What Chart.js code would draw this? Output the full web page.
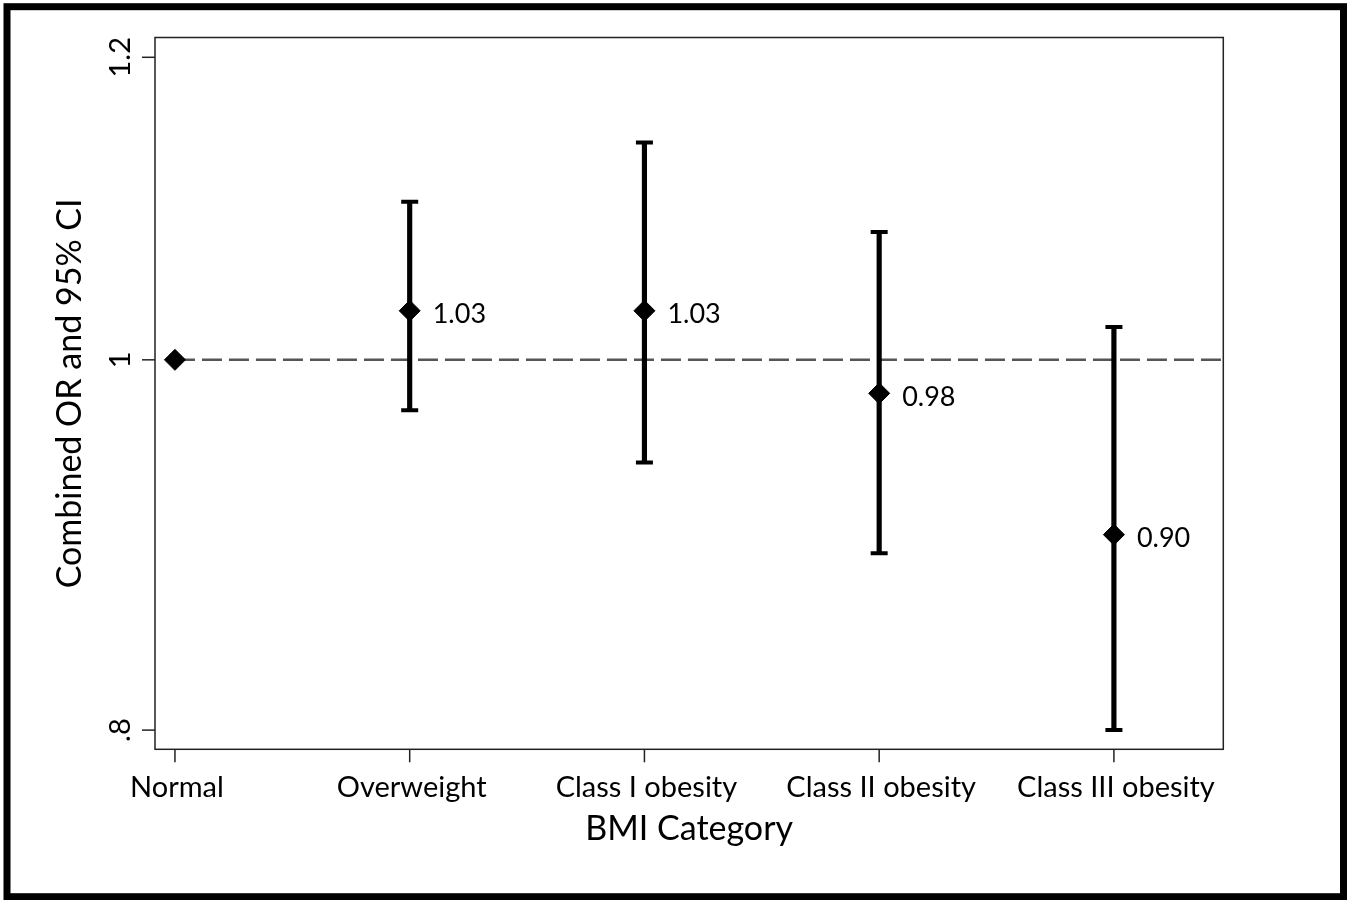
<!DOCTYPE html>
<html>
<head>
<meta charset="utf-8">
<script src="https://cdn.jsdelivr.net/npm/chart.js@4.4.1/dist/chart.umd.min.js"></script>
<style>
  html, body { margin: 0; padding: 0; background: #fff; }
  #wrap { width: 1350px; height: 900px; position: relative; }
</style>
</head>
<body>
<div id="wrap"><canvas id="chart" width="1350" height="900"></canvas></div>
<script>
// BMI categories and combined odds ratios
const categories = ['Normal', 'Overweight', 'Class I obesity', 'Class II obesity', 'Class III obesity'];
const orValues = [1, 1.03, 1.03, 0.98, 0.90];
const ciLower = [null, 0.97, 0.94, 0.89, 0.80];
const ciUpper = [null, 1.10, 1.14, 1.08, 1.02];
const orLabels = [null, '1.03', '1.03', '0.98', '0.90'];
const yTicks = [0.8, 1, 1.2];
const yTickLabels = ['.8', '1', '1.2'];
const refValue = 1;

const FONT = 'Lato, "Open Sans", sans-serif';

const pointData = orValues.map((v, i) => ({ x: i, y: v }));
const barData = [];
const capData = [];
categories.forEach((c, i) => {
  if (ciLower[i] == null) return;
  barData.push({ x: i, y: [ciLower[i], ciUpper[i]] });
  capData.push({ x: i, y: ciLower[i] });
  capData.push({ x: i, y: ciUpper[i] });
});

const xMin = -0.085, xMax = 4.466;

// frame, ticks, labels and titles
const decorations = {
  id: 'decorations',
  beforeDraw(chart) {
    const ctx = chart.ctx;
    ctx.save();
    ctx.fillStyle = '#fff';
    ctx.fillRect(0, 0, chart.width, chart.height);
    ctx.strokeStyle = '#000';
    ctx.lineWidth = 7;
    ctx.strokeRect(7, 6.7, 1336.5, 890);
    ctx.restore();
  },
  afterDraw(chart) {
    const ctx = chart.ctx;
    const a = chart.chartArea;
    const xs = chart.scales.x, ys = chart.scales.y;
    ctx.save();
    // plot frame
    ctx.strokeStyle = '#222';
    ctx.lineWidth = 1.5;
    ctx.strokeRect(a.left, a.top, a.right - a.left, a.bottom - a.top);

    // y ticks
    ctx.fillStyle = '#000';
    yTicks.forEach((t, i) => {
      const y = ys.getPixelForValue(t);
      ctx.beginPath();
      ctx.moveTo(a.left - 13, y);
      ctx.lineTo(a.left, y);
      ctx.stroke();
      ctx.save();
      ctx.translate(130, y);
      ctx.rotate(-Math.PI / 2);
      ctx.font = '29px ' + FONT;
      ctx.textAlign = 'center';
      ctx.textBaseline = 'alphabetic';
      ctx.fillText(yTickLabels[i], 0, 0);
      ctx.restore();
    });

    // x ticks
    categories.forEach((c, i) => {
      const x = xs.getPixelForValue(i);
      ctx.beginPath();
      ctx.moveTo(x, a.bottom);
      ctx.lineTo(x, a.bottom + 13);
      ctx.stroke();
      ctx.font = '29px ' + FONT;
      ctx.textAlign = 'center';
      ctx.textBaseline = 'alphabetic';
      ctx.fillText(c, x + 2, 797);
    });

    // axis titles
    ctx.font = '34px ' + FONT;
    ctx.textAlign = 'center';
    ctx.fillText('BMI Category', (a.left + a.right) / 2, 840);
    ctx.save();
    ctx.translate(81, (a.top + a.bottom) / 2);
    ctx.rotate(-Math.PI / 2);
    ctx.fillText('Combined OR and 95% CI', 0, 0);
    ctx.restore();

    // value labels
    ctx.font = '27px ' + FONT;
    ctx.textAlign = 'left';
    ctx.textBaseline = 'middle';
    orLabels.forEach((lab, i) => {
      if (!lab) return;
      ctx.fillText(lab, xs.getPixelForValue(i) + 23, ys.getPixelForValue(orValues[i]) + 3.5);
    });
    ctx.restore();
  }
};

new Chart(document.getElementById('chart'), {
  type: 'scatter',
  data: {
    datasets: [
      {
        type: 'scatter',
        data: pointData,
        pointStyle: 'rectRot',
        radius: 10.5,
        backgroundColor: '#000',
        borderColor: '#000',
        borderWidth: 1,
        order: 0
      },
      {
        type: 'scatter',
        data: capData,
        pointStyle: 'line',
        radius: 8.5,
        borderColor: '#000',
        borderWidth: 4,
        order: 1
      },
      {
        type: 'bar',
        data: barData,
        backgroundColor: '#000',
        barThickness: 4.5,
        order: 2
      },
      {
        type: 'line',
        data: [{ x: 0, y: refValue }, { x: xMax, y: refValue }],
        borderColor: '#555',
        borderWidth: 2.5,
        borderDash: [20, 7],
        pointRadius: 0,
        order: 3
      }
    ]
  },
  options: {
    responsive: false,
    animation: false,
    layout: { padding: { left: 155, top: 37.5, right: 126.7, bottom: 150.7 } },
    plugins: { legend: { display: false }, tooltip: { enabled: false } },
    scales: {
      x: { type: 'linear', min: xMin, max: xMax, offset: false, display: false },
      y: { type: 'logarithmic', min: 0.7908, max: 1.2144, bounds: 'data', display: false }
    }
  },
  plugins: [decorations]
});
</script>
</body>
</html>
